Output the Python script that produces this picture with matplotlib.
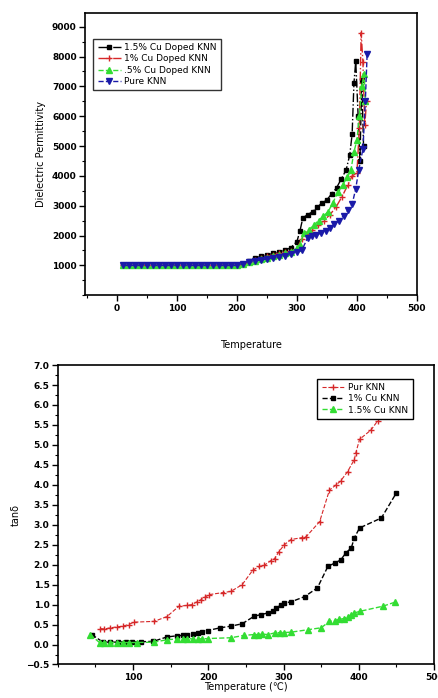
import numpy as np
import matplotlib
matplotlib.use("Agg")
import matplotlib.pyplot as plt
from matplotlib.ticker import MultipleLocator

# ── Top panel: dielectric permittivity vs temperature ─────────────────
flat_t = list(range(10, 201, 10))
flat_v = [1000] * len(flat_t)

t_cu15 = flat_t + [210, 220, 230, 240, 250, 260, 270, 280, 290, 300, 305, 310,
                   318, 326, 334, 342, 350, 358, 366, 374, 382, 388, 392, 395,
                   398, 402, 405, 408, 411]
v_cu15 = flat_v + [1050, 1150, 1250, 1300, 1350, 1400, 1450, 1500, 1600, 1800,
                   2150, 2600, 2700, 2800, 2950, 3100, 3200, 3400, 3600, 3900,
                   4200, 4700, 5400, 7100, 7850, 6000, 4500, 7200, 5000]

t_cu1 = flat_t + [210, 220, 230, 240, 250, 260, 270, 280, 290, 300, 308, 315,
                  325, 335, 345, 355, 365, 375, 385, 392, 400, 404, 407, 410,
                  413, 416]
v_cu1 = flat_v + [1050, 1100, 1180, 1250, 1300, 1350, 1400, 1450, 1480, 1550,
                  1900, 2050, 2200, 2350, 2500, 2700, 2950, 3300, 3700, 4000,
                  4100, 5600, 8800, 7800, 5700, 6500]

t_cu05 = flat_t + [210, 220, 230, 240, 250, 260, 270, 280, 290, 300, 305, 312,
                   320, 328, 336, 344, 352, 360, 368, 376, 384, 390, 395, 400,
                   404, 408, 412, 414]
v_cu05 = flat_v + [1050, 1100, 1150, 1200, 1250, 1300, 1350, 1400, 1450, 1600,
                   1700, 2100, 2200, 2350, 2500, 2650, 2800, 3100, 3450, 3700,
                   3950, 4200, 4800, 5200, 6000, 7000, 7400, 6500]

t_pure = flat_t + [210, 220, 230, 240, 250, 260, 270, 280, 290, 300, 308, 318,
                   325, 332, 340, 348, 355, 362, 370, 378, 385, 392, 398, 403,
                   410, 414, 417]
v_pure = flat_v + [1050, 1100, 1150, 1180, 1220, 1250, 1280, 1320, 1380, 1450,
                   1500, 1930, 1980, 2020, 2080, 2150, 2250, 2380, 2500, 2670,
                   2850, 3050, 3570, 4200, 4900, 6500, 8100]

# ── Bottom panel: tan delta vs temperature ───────────────────────────
t_pur = [56, 62, 70, 78, 86, 94, 101, 128, 145, 161, 172, 178, 185, 190, 195,
         201, 219, 230, 245, 259, 268, 274, 283, 288, 294, 301, 310, 325, 330,
         348, 361, 370, 376, 385, 394, 396, 401, 416, 425]
v_pur = [0.40, 0.39, 0.42, 0.44, 0.46, 0.50, 0.56, 0.58, 0.70, 0.96, 0.98,
         1.00, 1.07, 1.12, 1.18, 1.25, 1.30, 1.33, 1.50, 1.86, 1.96, 1.98,
         2.10, 2.15, 2.33, 2.50, 2.63, 2.68, 2.70, 3.08, 3.87, 4.00, 4.10,
         4.33, 4.63, 4.80, 5.14, 5.37, 5.60]

t_cu1b = [45, 60, 70, 80, 90, 99, 110, 127, 145, 159, 166, 172, 179, 186,
          192, 199, 216, 230, 245, 261, 270, 279, 286, 290, 296, 301, 310,
          328, 345, 359, 368, 376, 383, 390, 394, 401, 430, 450]
v_cu1b = [0.25, 0.06, 0.06, 0.06, 0.07, 0.06, 0.07, 0.08, 0.19, 0.22, 0.23,
          0.24, 0.26, 0.28, 0.31, 0.35, 0.42, 0.46, 0.52, 0.71, 0.75, 0.79,
          0.84, 0.92, 0.98, 1.04, 1.07, 1.20, 1.42, 1.96, 2.04, 2.12, 2.30,
          2.42, 2.67, 2.92, 3.17, 3.80]

t_cu15b = [43, 56, 62, 70, 78, 86, 94, 105, 128, 145, 159, 166, 172, 179, 186,
           192, 199, 230, 248, 261, 266, 272, 279, 288, 295, 301, 310, 332,
           350, 361, 368, 374, 380, 385, 390, 394, 401, 432, 448]
v_cu15b = [0.25, 0.04, 0.05, 0.05, 0.05, 0.05, 0.05, 0.05, 0.06, 0.12, 0.14,
           0.14, 0.15, 0.14, 0.15, 0.14, 0.15, 0.17, 0.23, 0.25, 0.25, 0.26,
           0.25, 0.29, 0.30, 0.30, 0.31, 0.37, 0.42, 0.58, 0.60, 0.63, 0.65,
           0.70, 0.74, 0.79, 0.83, 0.96, 1.06]

plt.rcParams["font.family"] = "DejaVu Sans"
plt.rcParams["font.size"] = 6.5

fig = plt.figure(figsize=(4.38, 6.98), dpi=100, facecolor="white")
ax1 = fig.add_axes([0.194, 0.577, 0.758, 0.404])
ax2 = fig.add_axes([0.132, 0.048, 0.859, 0.429])


def style_axes(ax):
    for spine in ax.spines.values():
        spine.set_linewidth(1.2)
    ax.tick_params(which="major", direction="out", length=4, width=1,
                   top=False, right=False, labelsize=6.5, pad=2)
    ax.tick_params(which="minor", direction="out", length=2, width=0.8,
                   top=False, right=False)
    for lbl in ax.get_xticklabels() + ax.get_yticklabels():
        lbl.set_fontweight("bold")


ms = 4
ax1.plot(t_cu15, v_cu15, color="black", linestyle="-.", linewidth=1,
         marker="s", markersize=3, label="1.5% Cu Doped KNN")
ax1.plot(t_cu1, v_cu1, color="#d62728", linestyle="-.", linewidth=1,
         marker="+", markersize=ms, label="1% Cu Doped KNN")
ax1.plot(t_cu05, v_cu05, color="#33dd33", linestyle="--", linewidth=1,
         marker="^", markersize=ms, label=".5% Cu Doped KNN")
ax1.plot(t_pure, v_pure, color="#1a1aa8", linestyle="--", linewidth=1,
         marker="v", markersize=ms + 1, label="Pure KNN")

ax1.set_xlim(-53, 500)
ax1.set_ylim(0, 9450)
ax1.xaxis.set_major_locator(MultipleLocator(100))
ax1.xaxis.set_minor_locator(MultipleLocator(50))
ax1.set_yticks(range(1000, 9001, 1000))
ax1.yaxis.set_minor_locator(MultipleLocator(500))
style_axes(ax1)
ax1.set_xlabel("Temperature", fontsize=7, labelpad=20)
ax1.set_ylabel("Dielectric Permittivity", fontsize=7, labelpad=4)
ax1.legend(loc="upper left", bbox_to_anchor=(0.012, 0.926), fontsize=6.5,
           frameon=True, fancybox=False, edgecolor="black", handlelength=2.5,
           handletextpad=0.4, borderpad=0.5, labelspacing=0.25)

ax2.plot(t_pur, v_pur, color="#d62728", linestyle="--", linewidth=0.8,
         marker="+", markersize=ms, label="Pur KNN")
ax2.plot(t_cu1b, v_cu1b, color="black", linestyle="--", linewidth=1,
         marker="s", markersize=3, label="1% Cu KNN")
ax2.plot(t_cu15b, v_cu15b, color="#33dd33", linestyle="--", linewidth=1,
         marker="^", markersize=ms, label="1.5% Cu KNN")

ax2.set_xlim(0, 500)
ax2.set_ylim(-0.5, 7.0)
ax2.set_xticks([100, 200, 300, 400, 500])
ax2.xaxis.set_minor_locator(MultipleLocator(50))
ax2.yaxis.set_major_locator(MultipleLocator(0.5))
ax2.yaxis.set_minor_locator(MultipleLocator(0.25))
style_axes(ax2)
ax2.set_xlabel("Temperature (\u2103)", fontsize=7, labelpad=0)
ax2.set_ylabel("tan\u03b4", fontsize=7, labelpad=4)
ax2.legend(loc="upper right", bbox_to_anchor=(0.955, 0.97), fontsize=6.5,
           frameon=True, fancybox=False, edgecolor="black", framealpha=1,
           handlelength=2.5, handletextpad=0.4, borderpad=0.5,
           labelspacing=0.25)

fig.savefig("out.png", dpi=100, facecolor="white")
